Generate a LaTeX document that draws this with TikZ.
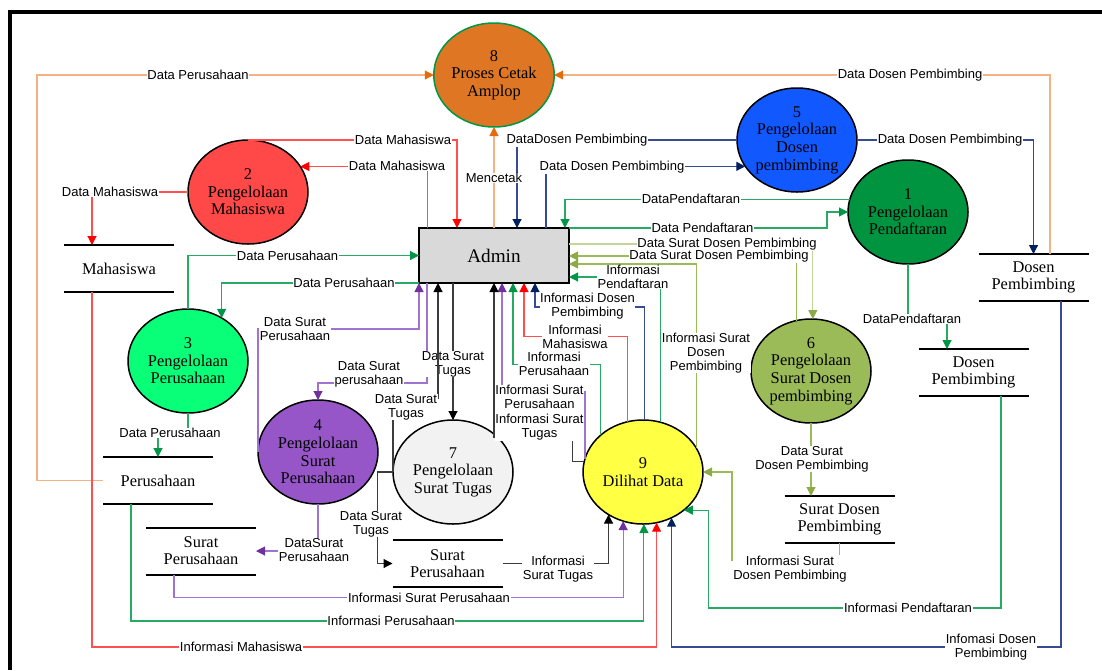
\documentclass[tikz,border=0pt]{standalone}
\usepackage{fontspec}
\setmainfont{Liberation Serif}
\newfontfamily\lblfont{Liberation Sans}
\usetikzlibrary{shapes.geometric,arrows.meta}

% fills
\definecolor{pOrange}{RGB}{222,118,36}
\definecolor{pRed}{RGB}{255,72,72}
\definecolor{pBlue}{RGB}{18,88,255}
\definecolor{pGreen}{RGB}{0,148,64}
\definecolor{pLime}{RGB}{10,255,120}
\definecolor{pPurple}{RGB}{150,86,200}
\definecolor{pGrey}{RGB}{242,242,242}
\definecolor{pOlive}{RGB}{155,187,89}
\definecolor{pYellow}{RGB}{255,255,68}
\definecolor{adminGrey}{RGB}{217,217,217}
% lines and tips
\definecolor{orangeL}{RGB}{244,177,131}
\definecolor{orangeD}{RGB}{228,108,10}
\definecolor{redL}{RGB}{255,80,80}
\definecolor{redD}{RGB}{255,0,0}
\definecolor{greenL}{RGB}{40,170,100}
\definecolor{greenD}{RGB}{0,150,70}
\definecolor{navyL}{RGB}{55,75,145}
\definecolor{navyD}{RGB}{0,32,96}
\definecolor{purpleL}{RGB}{160,115,210}
\definecolor{purpleD}{RGB}{112,48,160}
\definecolor{oliveL}{RGB}{155,187,89}
\definecolor{oliveD}{RGB}{140,170,70}
\definecolor{oliveP}{RGB}{196,215,155}
\definecolor{greyD}{RGB}{60,60,60}

\tikzset{
    proc/.style={ellipse, draw, line width=1.5pt, minimum width=120pt, minimum height=104pt,
        inner sep=0pt, outer sep=0pt, align=center, font=\fontsize{16.4}{17.6}\selectfont},
    store/.style={minimum width=110pt, minimum height=47pt, inner sep=0pt, outer sep=0pt,
        align=center, font=\fontsize{16.4}{17}\selectfont},
    storeline/.style={line width=2pt},
    lbl/.style={fill=white, inner sep=0.6pt, align=center,
        font=\lblfont\fontsize{13}{13.8}\selectfont},
    flow/.style={line width=1.1pt},
    flowtip/.style={-{Triangle[length=9pt,width=9pt,color=#1]}},
    orangeflow/.style={flow, draw=orangeL, flowtip=orangeD},
    redflow/.style={flow, draw=redL, flowtip=redD},
    greenflow/.style={flow, draw=greenL, flowtip=greenD},
    navyflow/.style={flow, draw=navyL, flowtip=navyD},
    purpleflow/.style={flow, draw=purpleL, flowtip=purpleD},
    oliveflow/.style={flow, draw=oliveL, flowtip=oliveD},
    paleflow/.style={flow, draw=oliveP, flowtip=oliveD},
    blackflow/.style={flow, draw=greyD, flowtip=black}
}

\begin{document}
\begin{tikzpicture}[x=1pt, y=-1pt]
    \useasboundingbox (0,0) rectangle (1102,670);

    % Frame
    \draw[line width=4pt] (9.5,670) -- (9.5,11.5) -- (1102,11.5);

    % Processes
    \node[proc, fill=pOrange, draw=greenD] (p8) at (494,75) {8\\Proses Cetak\\Amplop};
    \node[proc, fill=pRed] (p2) at (248,192) {2\\Pengelolaan\\Mahasiswa};
    \node[proc, fill=pBlue] (p5) at (797,140) {5\\Pengelolaan\\Dosen\\pembimbing};
    \node[proc, fill=pGreen] (p1) at (908,212) {1\\Pengelolaan\\Pendaftaran};
    \node[proc, fill=pLime] (p3) at (188,361) {3\\Pengelolaan\\Perusahaan};
    \node[proc, fill=pPurple] (p4) at (318,452) {4\\Pengelolaan\\Surat\\Perusahaan};
    \node[proc, fill=pGrey] (p7) at (453,472) {7\\Pengelolaan\\Surat Tugas};
    \node[proc, fill=pOlive] (p6) at (811,371) {6\\Pengelolaan\\Surat Dosen\\pembimbing};
    \node[proc, fill=pYellow] (p9) at (643,472) {9\\Dilihat Data};

    % Entity
    \node[draw, line width=2pt, fill=adminGrey, minimum width=150pt, minimum height=55pt,
        outer sep=0pt, font=\fontsize{19.2}{22}\selectfont] (admin) at (494,255.5) {Admin};

    % Data stores
    \node[store] (sMhs) at (119,268.5) {Mahasiswa};
    \node[store] (sDsn) at (1033.5,277.5) {Dosen\\Pembimbing};
    \node[store] (sPrs) at (158,480.5) {Perusahaan};
    \node[store] (sSrp) at (201,551) {Surat\\Perusahaan};
    \node[store] (sSrt) at (447.5,563.5) {Surat\\Perusahaan};
    \node[store] (sDsn2) at (973.5,372.5) {Dosen\\Pembimbing};
    \node[store] (sSdp) at (839.5,519.5) {Surat Dosen\\Pembimbing};
    \foreach \st in {sMhs,sDsn,sPrs,sSrp,sSrt,sDsn2,sSdp}
        \draw[storeline] (\st.north west) -- (\st.north east) (\st.south west) -- (\st.south east);

    % Cetak amplop
    \draw[orangeflow] (sPrs.west) -- ++(-66,0) |- (p8);
    \draw[orangeflow] ([xshift=16.5pt]sDsn.north) |- (p8);
    \draw[orangeflow] (admin.north) -- (p8.south);

    % Mahasiswa
    \draw[redflow] (p2.north) -| ([xshift=38pt]admin.north west);
    \draw[redflow] ([xshift=8.5pt]admin.north west) |- (p2.26.6);
    \draw[redflow] (p2.west) -| ([xshift=-27pt]sMhs.north);
    \draw[redflow] ([xshift=-27pt]sMhs.south) -- ++(0,355) -| (p9.285.5);
    \draw[redflow] (p9.107.7) -- ++(0,-85) -| ([xshift=105pt]admin.south west);

    % Perusahaan
    \draw[greenflow] (p3.north) |- (admin.west);
    \draw[greenflow] (admin.south west) -| (p3.52.7);
    \draw[greenflow] (p3.south) -- ++(0,20) -| (sPrs.north);
    \draw[greenflow] ([xshift=-27pt]sPrs.south) -- ++(0,117) -| (p9.271.1);
    \draw[greenflow] (p9.139.8) -- ++(0,-71) -| ([xshift=94pt]admin.south west);

    % Surat perusahaan
    \draw[purpleflow] (p4.south) |- (sSrp.east);
    \draw[purpleflow] (p4.west) -- ++(0,-123) -| (admin.south west);
    \draw[purpleflow] ([xshift=8pt]admin.south west) -- ++(0,100) -| (p4.north);
    \draw[purpleflow] ([xshift=-27pt]sSrp.south) -- ++(0,23) -| (p9.248.9);
    \draw[purpleflow] (p9.167.1) -- ++(0,-67) -| ([xshift=83pt]admin.south west);

    % Surat tugas
    \draw[blackflow] ([xshift=34pt]admin.south west) -- (p7.north);
    \draw[blackflow] (p7.west) -- ++(-15.5,0) |- (sSrt.west);
    \draw[blackflow] (sSrt.east) -| (p9.231.5);
    \draw[blackflow] (p9.170.4) -- ++(-12,0) -- ++(0,-24) -| ([xshift=75pt]admin.south west);

    % Dosen pembimbing
    \draw[navyflow] (p5.west) -| ([xshift=-52pt]admin.north east);
    \draw[navyflow] ([xshift=-23pt]admin.north east) |- (p5.207.8);
    \draw[navyflow] (p5.east) -| (sDsn.north);
    \draw[navyflow] (p9.88.9) -- ++(0,-113) -| ([xshift=116pt]admin.south west);
    \draw[navyflow] ([xshift=27.5pt]sDsn.south) -- ++(0,346) -| (p9.302.5);

    % Pendaftaran
    \draw[greenflow] (p1.168.4) -| ([xshift=-4pt]admin.north east);
    \draw[greenflow] (admin.north east) -- ++(258,0) |- (p1.west);
    \draw[greenflow] (p1.south) -- ++(0,55) -| ([xshift=-26.5pt]sDsn2.north);
    \draw[greenflow] (p9.71.2) |- ([yshift=-21.5pt]admin.east);
    \draw[greenflow] ([xshift=27.5pt]sDsn2.south) -- ++(0,212) -- ++(-292.5,0) |- (p9.317.1);

    % Surat dosen pembimbing
    \draw[paleflow] ([yshift=11.5pt]admin.east) -| (p6.88.9);
    \draw[oliveflow] (p6.106.6) |- ([yshift=-0.5pt]admin.east);
    \draw[oliveflow] (p6.south) -- (p6.south |- sSdp.north);
    \draw[oliveflow] (p9.24.7) |- ([yshift=-8.5pt]admin.east);
    \draw[oliveflow] (sSdp.south) -- ++(0,17) -- ++(-107.5,0) |- (p9.east);

    % Labels
    \node[lbl] (l1) at (198,75) {Data Perusahaan};
    \node[lbl] (l2) at (910,75) {Data Dosen Pembimbing};
    \node[lbl] (l3) at (494,178) {Mencetak};
    \node[lbl] (l4) at (403,140) {Data Mahasiswa};
    \node[lbl] (l5) at (397,166) {Data Mahasiswa};
    \node[lbl] (l6) at (110,192) {Data Mahasiswa};
    \node[lbl] (l7) at (241,647) {Informasi Mahasiswa};
    \node[lbl] (l8) at (287.5,256) {Data Perusahaan};
    \node[lbl] (l9) at (344,283) {Data Perusahaan};
    \node[lbl] (l10) at (170,433) {Data Perusahaan};
    \node[lbl] (l11) at (391,621) {Informasi Perusahaan};
    \node[lbl] (l12) at (429,598) {Informasi Surat Perusahaan};
    \node[lbl] (l13) at (558,569) {Informasi\\Surat Tugas};
    \node[lbl] (l14) at (314,550) {DataSurat\\Perusahaan};
    \node[lbl] (l15) at (295,329) {Data Surat\\Perusahaan};
    \node[lbl] (l16) at (369,374) {Data Surat\\perusahaan};
    \node[lbl] (l17) at (453,364) {Data Surat\\Tugas};
    \node[lbl] (l19) at (371,524) {Data Surat\\Tugas};
    \node[lbl] (l20) at (539.5,427) {Informasi Surat\\Tugas};
    \node[lbl] (l21) at (539.5,397) {Informasi Surat\\Perusahaan};
    \node[lbl] (l22) at (554,364) {Informasi\\Perusahaan};
    \node[lbl] (l23) at (575,337) {Informasi\\Mahasiswa};
    \node[lbl] (l24) at (587.5,306) {Informasi Dosen\\Pembimbing};
    \node[lbl] (l25) at (633,277) {Informasi\\Pendaftaran};
    \node[lbl] (l26) at (706,353) {Informasi Surat\\Dosen\\Pembimbing};
    \node[lbl] (l27) at (790,569) {Informasi Surat\\Dosen Pembimbing};
    \node[lbl] (l28) at (908,608) {Informasi Pendaftaran};
    \node[lbl] (l29) at (991,647) {Infomasi Dosen\\Pembimbing};
    \node[lbl] (l30) at (577,140) {DataDosen Pembimbing};
    \node[lbl] (l31) at (612,167) {Data Dosen Pembimbing};
    \node[lbl] (l32) at (950,140) {Data Dosen Pembimbing};
    \node[lbl] (l33) at (691,199) {DataPendaftaran};
    \node[lbl] (l34) at (702.5,228) {Data Pendaftaran};
    \node[lbl] (l35) at (727,244) {Data Surat Dosen Pembimbing};
    \node[lbl] (l36) at (719,256) {Data Surat Dosen Pembimbing};
    \node[lbl] (l37) at (912,319) {DataPendaftaran};
    \node[lbl] (l38) at (812,459) {Data Surat\\Dosen Pembimbing};

    % Surat tugas back to admin, over its neighbour's label
    \draw[blackflow] (p7.west) -- ++(0,-74) -| ([xshift=19pt]admin.south west);
    \node[lbl] (l18) at (406,407) {Data Surat\\Tugas};
\end{tikzpicture}
\end{document}
